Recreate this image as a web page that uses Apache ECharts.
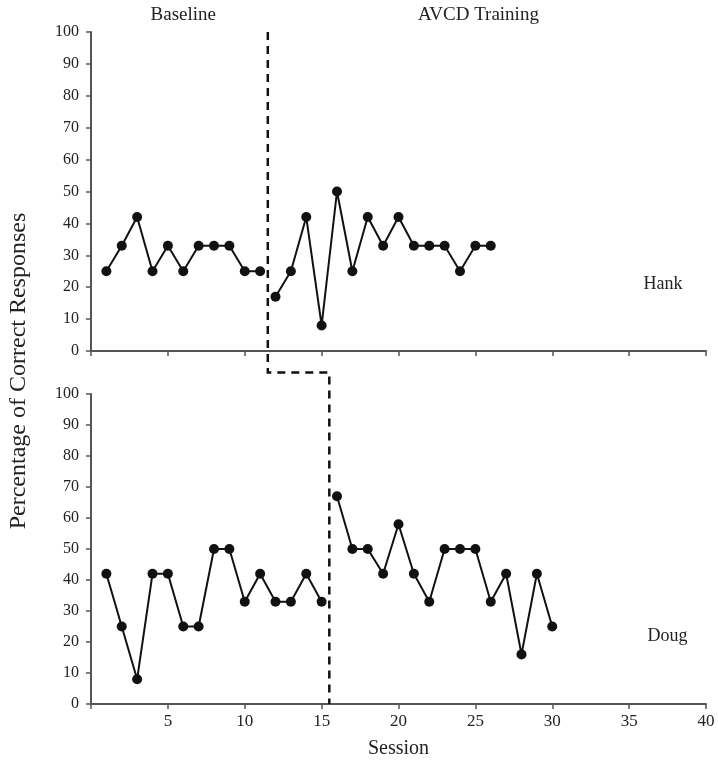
<!DOCTYPE html>
<html>
<head>
<meta charset="utf-8">
<script src="https://cdn.jsdelivr.net/npm/echarts@6/dist/echarts.min.js"></script>
<style>html,body{margin:0;padding:0;background:#fff;}#c{width:718px;height:768px;}</style>
</head>
<body>
<div id="c"></div>
<script>
const hankBaselineSessions = [1,2,3,4,5,6,7,8,9,10,11];
const hankBaseline = [25,33,42,25,33,25,33,33,33,25,25];
const hankTrainingSessions = [12,13,14,15,16,17,18,19,20,21,22,23,24,25,26];
const hankTraining = [17,25,42,8,50,25,42,33,42,33,33,33,25,33,33];
const dougBaselineSessions = [1,2,3,4,5,6,7,8,9,10,11,12,13,14,15];
const dougBaseline = [42,25,8,42,42,25,25,50,50,33,42,33,33,42,33];
const dougTrainingSessions = [16,17,18,19,20,21,22,23,24,25,26,27,28,29,30];
const dougTraining = [67,50,50,42,58,42,33,50,50,50,33,42,16,42,25];
const phaseChangeHank = 11.5;
const phaseChangeDoug = 15.5;
const xTicks = [0,5,10,15,20,25,30,35,40];
const yTicks = [0,10,20,30,40,50,60,70,80,90,100];

const FONT = '"Liberation Serif", "DejaVu Serif", serif';
const pair = (xs, ys) => xs.map((x, i) => [x, ys[i]]);

const chart = echarts.init(document.getElementById('c'));

function xAxis(idx, showLabels) {
  return {
    gridIndex: idx, type: 'value', min: xTicks[0], max: xTicks[xTicks.length-1], interval: 5,
    axisLine: {lineStyle: {color: '#555', width: 2}},
    axisTick: {show: true, length: 5, lineStyle: {color: '#555', width: 1.5}},
    splitLine: {show: false},
    axisLabel: {show: showLabels, fontFamily: FONT, fontSize: 17, color: '#222', margin: 9,
      formatter: v => v === 0 ? '' : String(v)},
    name: showLabels ? 'Session' : '', nameLocation: 'middle', nameGap: 35,
    nameTextStyle: {fontFamily: FONT, fontSize: 20, color: '#222'}
  };
}
function yAxis(idx) {
  return {
    gridIndex: idx, type: 'value', min: yTicks[0], max: yTicks[yTicks.length-1], interval: 10,
    axisLine: {show: true, lineStyle: {color: '#555', width: 2}},
    axisTick: {show: true, length: 5, lineStyle: {color: '#555', width: 1.5}},
    splitLine: {show: false},
    axisLabel: {fontFamily: FONT, fontSize: 16, color: '#222', margin: 12}
  };
}
function series(name, x, y, xi, yi) {
  return {
    name, type: 'line', xAxisIndex: xi, yAxisIndex: yi, data: pair(x, y),
    symbol: 'circle', symbolSize: 10, itemStyle: {color: '#111'},
    lineStyle: {color: '#111', width: 2}, animation: false
  };
}

chart.setOption({
  animation: false,
  grid: [
    {left: 91, right: 12, top: 32, height: 319},
    {left: 91, right: 12, top: 394, height: 310}
  ],
  xAxis: [xAxis(0, false), xAxis(1, true)],
  yAxis: [yAxis(0), yAxis(1)],
  series: [
    series('Hank Baseline', hankBaselineSessions, hankBaseline, 0, 0),
    series('Hank Training', hankTrainingSessions, hankTraining, 0, 0),
    series('Doug Baseline', dougBaselineSessions, dougBaseline, 1, 1),
    series('Doug Training', dougTrainingSessions, dougTraining, 1, 1)
  ]
});

const pTop = chart.convertToPixel({xAxisIndex: 0, yAxisIndex: 0}, [phaseChangeHank, 100]);
const pTop0 = chart.convertToPixel({xAxisIndex: 0, yAxisIndex: 0}, [phaseChangeHank, 0]);
const pBot = chart.convertToPixel({xAxisIndex: 1, yAxisIndex: 1}, [phaseChangeDoug, 0]);
const pBot100 = chart.convertToPixel({xAxisIndex: 1, yAxisIndex: 1}, [phaseChangeDoug, 100]);
const midY = (pTop0[1] + pBot100[1]) / 2;
const hankLabel = chart.convertToPixel({xAxisIndex: 0, yAxisIndex: 0}, [37.2, 21]);
const dougLabel = chart.convertToPixel({xAxisIndex: 1, yAxisIndex: 1}, [37.5, 22]);
const baseLbl = chart.convertToPixel({xAxisIndex: 0, yAxisIndex: 0}, [6, 100]);
const trainLbl = chart.convertToPixel({xAxisIndex: 0, yAxisIndex: 0}, [25.2, 100]);

chart.setOption({
  graphic: [
    {type: 'polyline', shape: {points: [[pTop[0], pTop[1]], [pTop[0], midY], [pBot[0], midY], [pBot[0], pBot[1]]]},
     style: {stroke: '#111', lineWidth: 2.5, lineDash: [8, 6], fill: null}, z: 10},
    {type: 'text', x: 19, y: 371, rotation: Math.PI / 2,
     style: {text: 'Percentage of Correct Responses', font: '24px ' + FONT, fill: '#222', textAlign: 'center', textVerticalAlign: 'middle'}},
    {type: 'text', x: baseLbl[0], y: 15, style: {text: 'Baseline', font: '19px ' + FONT, fill: '#222', textAlign: 'center', textVerticalAlign: 'middle'}},
    {type: 'text', x: trainLbl[0], y: 15, style: {text: 'AVCD Training', font: '19px ' + FONT, fill: '#222', textAlign: 'center', textVerticalAlign: 'middle'}},
    {type: 'text', x: hankLabel[0], y: hankLabel[1], style: {text: 'Hank', font: '18px ' + FONT, fill: '#222', textAlign: 'center', textVerticalAlign: 'middle'}},
    {type: 'text', x: dougLabel[0], y: dougLabel[1], style: {text: 'Doug', font: '18px ' + FONT, fill: '#222', textAlign: 'center', textVerticalAlign: 'middle'}}
  ]
});
</script>
</body>
</html>
